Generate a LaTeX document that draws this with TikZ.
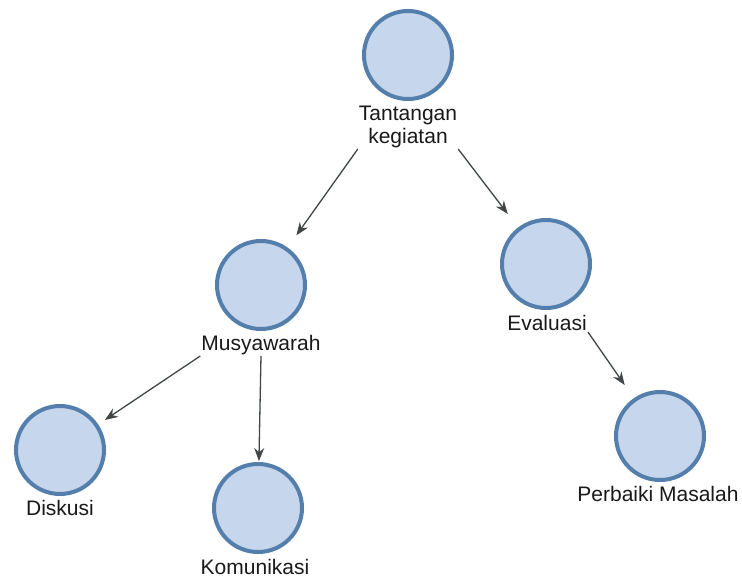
\documentclass[tikz,border=0pt]{standalone}
\usepackage{fontspec}
\setmainfont{Liberation Sans}
\usetikzlibrary{arrows.meta}
\definecolor{circfill}{RGB}{198,214,236}
\definecolor{circline}{RGB}{84,126,172}
\definecolor{arrline}{RGB}{66,70,70}
\tikzset{
  bubble/.style={circle, draw=circline, fill=circfill, line width=4pt, minimum size=88pt, inner sep=0pt},
  lbl/.style={inner sep=1pt, align=center, font=\fontsize{21}{23}\selectfont, text=black!90},
  arr/.style={draw=arrline, line width=1.3pt, -{Stealth[length=13pt,width=10pt]}},
}
\begin{document}
\begin{tikzpicture}[x=1pt,y=-1pt]
\useasboundingbox[fill=white] (0,0) rectangle (742,582);
% circles
\node[bubble] (cA) at (408,55) {};
\node[bubble] (cB) at (261,285) {};
\node[bubble] (cC) at (546,264) {};
\node[bubble] (cD) at (60,450) {};
\node[bubble] (cE) at (258,508) {};
\node[bubble] (cF) at (660,436) {};
% labels
\node[lbl] (lA) at (408,127) {Tantangan\\kegiatan};
\node[lbl] (lB) at (261,345) {Musyawarah};
\node[lbl] (lC) at (547,323) {Evaluasi};
\node[lbl] (lD) at (60,508) {Diskusi};
\node[lbl] (lE) at (255,567) {Komunikasi};
\node[lbl] (lF) at (658,494) {Perbaiki Masalah};
% connectors
\draw[arr, shorten >=15pt] (lA.south west) -- (cB);
\draw[arr, shorten >=17pt] (lA.south east) -- (cC);
\draw[arr, shorten >=8pt] (lB.south west) -- (cD);
\draw[arr, shorten >=1pt] (lB.south) -- (cE);
\draw[arr, shorten >=16pt] (lC.south east) -- (cF);
\end{tikzpicture}
\end{document}
